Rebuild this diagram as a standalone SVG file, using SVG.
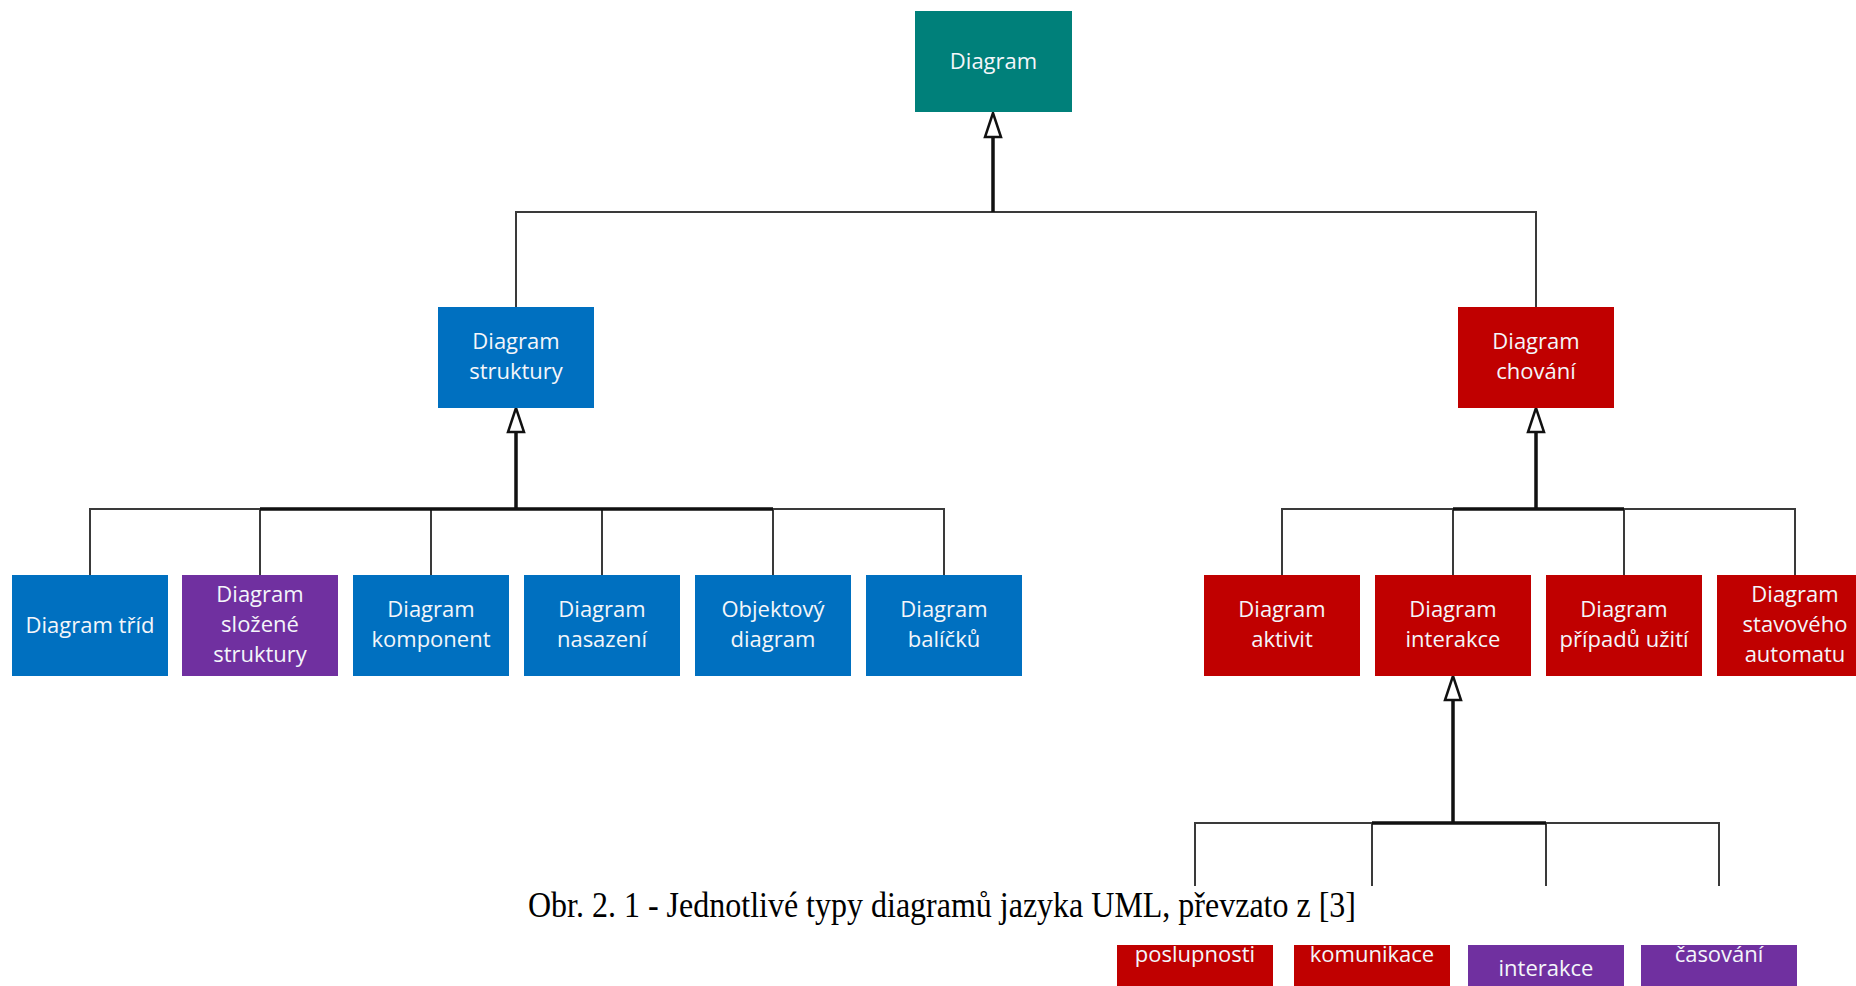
<svg xmlns="http://www.w3.org/2000/svg" width="1856" height="986" viewBox="0 0 1856 986">
  <defs>
    <style>
      .box text { font-family: "Open Sans", "Noto Sans", "DejaVu Sans", sans-serif; font-size: 22px; fill: #f4f6fa; text-anchor: middle; }
      .teal { fill: #00807a; }
      .blue { fill: #0070c0; }
      .red { fill: #c00000; }
      .purple { fill: #7030a0; }
      .thin { stroke: #3a3a3a; stroke-width: 2; fill: none; }
      .thick { stroke: #111; stroke-width: 3.5; fill: none; }
      .head { fill: #fff; stroke: #111; stroke-width: 2.5; stroke-linejoin: miter; }
      .caption { font-family: "Liberation Serif", "Times New Roman", serif; font-size: 36px; fill: #000; }
    </style>
    <clipPath id="lowerRow">
      <rect x="0" y="945" width="1856" height="41"/>
    </clipPath>
  </defs>

  <rect width="1856" height="986" fill="#fff"/>

  <!-- connectors -->
  <g id="connectors">
    <!-- Diagram -> structure / behaviour -->
    <path class="thin" d="M516 307 V212 H1536 V307"/>
    <path class="thick" d="M993 212 V137"/>
    <polygon class="head" points="993,113 985,137 1001,137"/>

    <!-- Diagram struktury children -->
    <path class="thin" d="M90 575 V509 H944 V575 M260 509 V575 M431 509 V575 M602 509 V575 M773 509 V575"/>
    <path class="thick" d="M260 509 H773 M516 509 V432"/>
    <polygon class="head" points="516,408 508,432 524,432"/>

    <!-- Diagram chování children -->
    <path class="thin" d="M1282 575 V509 H1795 V575 M1453 509 V575 M1624 509 V575"/>
    <path class="thick" d="M1453 509 H1624 M1536 509 V432"/>
    <polygon class="head" points="1536,408 1528,432 1544,432"/>

    <!-- Diagram interakce children -->
    <path class="thin" d="M1195 886 V823 H1719 V886 M1372 823 V886 M1546 823 V886"/>
    <path class="thick" d="M1372 823 H1546 M1453 823 V700"/>
    <polygon class="head" points="1453,676 1445,700 1461,700"/>
  </g>

  <!-- root -->
  <g id="n-diagram" class="box">
    <rect class="teal" x="915" y="11" width="157" height="101"/>
    <text x="993.5" y="68.5">Diagram</text>
  </g>

  <!-- second level -->
  <g id="n-struktury" class="box">
    <rect class="blue" x="438" y="307" width="156" height="101"/>
    <text x="516" y="348.5">Diagram</text>
    <text x="516" y="378.5">struktury</text>
  </g>
  <g id="n-chovani" class="box">
    <rect class="red" x="1458" y="307" width="156" height="101"/>
    <text x="1536" y="348.5">Diagram</text>
    <text x="1536" y="378.5">chování</text>
  </g>

  <!-- structure diagrams -->
  <g id="n-trid" class="box">
    <rect class="blue" x="12" y="575" width="156" height="101"/>
    <text x="90" y="633">Diagram tříd</text>
  </g>
  <g id="n-slozene" class="box">
    <rect class="purple" x="182" y="575" width="156" height="101"/>
    <text x="260" y="602">Diagram</text>
    <text x="260" y="632">složené</text>
    <text x="260" y="662">struktury</text>
  </g>
  <g id="n-komponent" class="box">
    <rect class="blue" x="353" y="575" width="156" height="101"/>
    <text x="431" y="617">Diagram</text>
    <text x="431" y="647">komponent</text>
  </g>
  <g id="n-nasazeni" class="box">
    <rect class="blue" x="524" y="575" width="156" height="101"/>
    <text x="602" y="617">Diagram</text>
    <text x="602" y="647">nasazení</text>
  </g>
  <g id="n-objektovy" class="box">
    <rect class="blue" x="695" y="575" width="156" height="101"/>
    <text x="773" y="617">Objektový</text>
    <text x="773" y="647">diagram</text>
  </g>
  <g id="n-balicku" class="box">
    <rect class="blue" x="866" y="575" width="156" height="101"/>
    <text x="944" y="617">Diagram</text>
    <text x="944" y="647">balíčků</text>
  </g>

  <!-- behaviour diagrams -->
  <g id="n-aktivit" class="box">
    <rect class="red" x="1204" y="575" width="156" height="101"/>
    <text x="1282" y="617">Diagram</text>
    <text x="1282" y="647">aktivit</text>
  </g>
  <g id="n-interakce" class="box">
    <rect class="red" x="1375" y="575" width="156" height="101"/>
    <text x="1453" y="617">Diagram</text>
    <text x="1453" y="647">interakce</text>
  </g>
  <g id="n-pripadu" class="box">
    <rect class="red" x="1546" y="575" width="156" height="101"/>
    <text x="1624" y="617">Diagram</text>
    <text x="1624" y="647">případů užití</text>
  </g>
  <g id="n-stavoveho" class="box">
    <rect class="red" x="1717" y="575" width="156" height="101"/>
    <text x="1795" y="602">Diagram</text>
    <text x="1795" y="632">stavového</text>
    <text x="1795" y="662">automatu</text>
  </g>

  <!-- interaction diagrams, lower row below the caption band -->
  <g clip-path="url(#lowerRow)">
    <g id="n-poslupnosti" class="box">
      <rect class="red" x="1117" y="889" width="156" height="101"/>
      <text x="1195" y="961.5">poslupnosti</text>
    </g>
    <g id="n-komunikace" class="box">
      <rect class="red" x="1294" y="889" width="156" height="101"/>
      <text x="1372" y="961.5">komunikace</text>
    </g>
    <g id="n-prehled" class="box">
      <rect class="purple" x="1468" y="889" width="156" height="101"/>
      <text x="1546" y="976">interakce</text>
    </g>
    <g id="n-casovani" class="box">
      <rect class="purple" x="1641" y="889" width="156" height="101"/>
      <text x="1719" y="961.5">časování</text>
    </g>
  </g>

  <!-- figure caption -->
  <text class="caption" x="528" y="917" textLength="828" lengthAdjust="spacingAndGlyphs">Obr. 2. 1 - Jednotlivé typy diagramů jazyka UML, převzato z [3]</text>
</svg>
